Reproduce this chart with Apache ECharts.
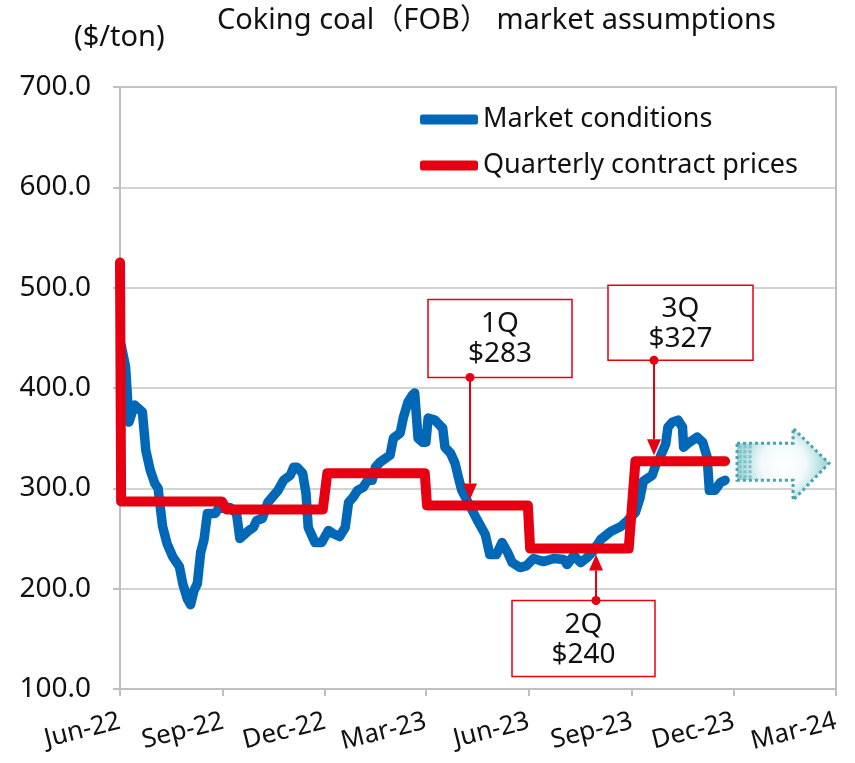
<!DOCTYPE html>
<html><head><meta charset="utf-8">
<script src="https://cdn.jsdelivr.net/npm/echarts@6/dist/echarts.min.js"></script>
<style>html,body{margin:0;padding:0;background:#fff}#c{width:855px;height:763px}</style>
</head><body><div id="c"></div>
<script>
// ---- data ----
const marketDates = ['2022-06-02','2022-06-06','2022-06-09','2022-06-14','2022-06-21','2022-06-24','2022-06-28','2022-07-02','2022-07-05','2022-07-09','2022-07-13','2022-07-18','2022-07-24','2022-07-27','2022-07-31','2022-08-03','2022-08-06','2022-08-09','2022-08-12','2022-08-15','2022-08-18','2022-08-25','2022-08-28','2022-09-07','2022-09-13','2022-09-16','2022-09-23','2022-09-28','2022-10-01','2022-10-06','2022-10-11','2022-10-20','2022-10-25','2022-10-31','2022-11-03','2022-11-06','2022-11-11','2022-11-14','2022-11-16','2022-11-22','2022-11-28','2022-12-04','2022-12-08','2022-12-14','2022-12-19','2022-12-22','2022-12-26','2022-12-30','2023-01-04','2023-01-08','2023-01-12','2023-01-15','2023-01-19','2023-01-28','2023-01-31','2023-02-06','2023-02-09','2023-02-13','2023-02-17','2023-02-19','2023-02-22','2023-02-26','2023-03-01','2023-03-03','2023-03-09','2023-03-16','2023-03-18','2023-03-23','2023-03-27','2023-03-30','2023-04-02','2023-04-10','2023-04-16','2023-04-23','2023-04-27','2023-05-03','2023-05-08','2023-05-13','2023-05-17','2023-05-24','2023-05-30','2023-06-05','2023-06-14','2023-06-23','2023-07-02','2023-07-05','2023-07-11','2023-07-17','2023-07-23','2023-07-28','2023-08-04','2023-08-13','2023-08-22','2023-08-28','2023-09-04','2023-09-08','2023-09-11','2023-09-19','2023-09-22','2023-09-26','2023-10-01','2023-10-03','2023-10-07','2023-10-12','2023-10-16','2023-10-17','2023-10-21','2023-10-29','2023-11-03','2023-11-07','2023-11-09','2023-11-14','2023-11-19','2023-11-23'];
const marketValues = [443,421,366,383,376,338,318,305,300,262,245,232,222,205,190,184,198,205,236,249,275,275,280,281,275,250,257,261,268,270,286,298,308,313,321,321,315,295,261,246,246,258,255,252,261,286,291,298,301,308,308,321,326,333,350,355,371,386,393,395,350,346,346,370,368,360,341,335,325,311,298,281,268,254,234,234,246,236,226,221,223,230,227,230,229,224,233,226,231,237,249,257,262,268,276,290,307,313,323,331,344,361,366,368,361,341,345,351,346,331,298,298,306,308];

const contractDates = ['2022-06-01','2022-06-02','2022-08-31','2022-09-04','2022-11-29','2022-12-03','2023-02-28','2023-03-02','2023-05-31','2023-06-02','2023-08-29','2023-09-04','2023-11-23'];
const contractValues = [525,287,287,279,279,315,315,283,283,240,240,327,327];

const tickDates = ['2022-06-01','2022-09-01','2022-12-01','2023-03-01','2023-06-01','2023-09-01','2023-12-01','2024-03-01'];
const tickLabels = ['Jun-22','Sep-22','Dec-22','Mar-23','Jun-23','Sep-23','Dec-23','Mar-24'];

const annoLabels = ['1Q','2Q','3Q'];
const annoPrices = ['$283','$240','$327'];
const annoDates = ['2023-04-09','2023-07-31','2023-09-21'];
const annoValues = [283,240,327];

// ---- chart ----
const FONT = "'Noto Sans', 'Noto Sans CJK JP', sans-serif";
function toTs(s){const p=s.split('-').map(Number);return new Date(p[0],p[1]-1,p[2]).getTime();}
const tickTs = tickDates.map(toTs);

const chart = echarts.init(document.getElementById('c'), null, {renderer:'canvas'});
chart.setOption({
  animation:false,
  backgroundColor:'#fff',
  title:{text:'Coking coal（FOB） market assumptions', left:217, top:6, padding:0,
    textStyle:{fontSize:29, fontWeight:'normal', color:'#111', fontFamily:FONT}},
  legend:{orient:'vertical', left:420, top:106, padding:0, itemWidth:58, itemHeight:10, itemGap:19,
    icon:'roundRect', textStyle:{fontSize:27, lineHeight:27, color:'#111', fontFamily:FONT},
    data:['Market conditions','Quarterly contract prices']},
  grid:{left:120, right:19, top:87, bottom:74, show:true, borderColor:'#bfbfbf', borderWidth:2},
  xAxis:{type:'value', min:tickTs[0], max:tickTs[tickTs.length-1],
    axisLine:{lineStyle:{color:'#bfbfbf', width:2}},
    axisTick:{show:true, customValues:tickTs, length:7, lineStyle:{color:'#bfbfbf', width:2}},
    axisLabel:{customValues:tickTs, rotate:14, margin:32, fontSize:26, color:'#111', fontFamily:FONT,
      hideOverlap:false,
      formatter:function(v){let bi=0,bd=Infinity;tickTs.forEach((t,i)=>{const d=Math.abs(t-v);if(d<bd){bd=d;bi=i;}});return tickLabels[bi];}},
    splitLine:{show:false}},
  yAxis:{type:'value', min:100, max:700, interval:100,
    axisLine:{show:true, lineStyle:{color:'#bfbfbf', width:2}},
    axisTick:{show:true, length:7, lineStyle:{color:'#bfbfbf', width:2}},
    axisLabel:{formatter:v=>v.toFixed(1), margin:29, fontSize:28, color:'#111', fontFamily:FONT},
    splitLine:{lineStyle:{color:'#c4c4c4', width:1.5}}},
  series:[
    {name:'Market conditions', type:'line', symbol:'none', z:2,
      data:marketDates.map((d,i)=>[toTs(d), marketValues[i]]),
      lineStyle:{color:'#0068b7', width:9.5, cap:'round', join:'round'}, itemStyle:{color:'#0068b7'}},
    {name:'Quarterly contract prices', type:'line', symbol:'none', z:3,
      data:contractDates.map((d,i)=>[toTs(d), contractValues[i]]),
      lineStyle:{color:'#e60012', width:10, cap:'round', join:'round'}, itemStyle:{color:'#e60012'}}
  ]
});

// ---- annotations ----
const RED = '#e60012';
const g = [];
g.push({type:'text', left:74, top:23, z:100, style:{text:'($/ton)', font:'29px '+FONT, fill:'#111'}});
const layouts = [
  {dir:-1, left:-42, w:144, h:78, gap:122},
  {dir: 1, left:-84, w:143, h:76, gap:46},
  {dir:-1, left:-46, w:145, h:75, gap:95}
];
annoLabels.forEach((lab,i)=>{
  const p = chart.convertToPixel({gridIndex:0}, [toTs(annoDates[i]), annoValues[i]]);
  const L = layouts[i];
  const ax = Math.round(p[0]);
  const tipY = p[1] + L.dir*6;
  let boxTop, dotY;
  if (L.dir < 0) { const bottom = tipY - L.gap; boxTop = bottom - L.h; dotY = bottom; }
  else { boxTop = tipY + L.gap; dotY = boxTop; }
  g.push({type:'rect', z:100, shape:{x:ax+L.left, y:boxTop, width:L.w, height:L.h},
    style:{fill:'#fff', stroke:RED, lineWidth:1.5}});
  g.push({type:'text', z:101, style:{text:lab+'\n'+annoPrices[i], x:ax+L.left+L.w/2, y:boxTop+L.h/2+1,
    align:'center', verticalAlign:'middle', font:'28px '+FONT, lineHeight:30, fill:'#111'}});
  const headBase = tipY + (L.dir<0 ? -16 : 16);
  g.push({type:'line', z:101, shape:{x1:ax, y1:dotY, x2:ax, y2:headBase}, style:{stroke:RED, lineWidth:2}});
  g.push({type:'circle', z:101, shape:{cx:ax, cy:dotY, r:4.5}, style:{fill:RED}});
  g.push({type:'polygon', z:101, shape:{points:[[ax-7,headBase],[ax+7,headBase],[ax,tipY]]}, style:{fill:RED}});
});
(function(){
  const p = chart.convertToPixel({gridIndex:0}, [toTs('2023-12-01'), 325]);
  const x0 = p[0] + 3, y0 = p[1];
  const pts = [[0,-20],[56,-20],[56,-35],[92,0],[56,37],[56,17],[0,17]].map(q=>[x0+q[0], y0+q[1]]);
  g.push({type:'polygon', z:90, shape:{points:pts},
    style:{fill:{type:'radial', x:0.5, y:0.5, r:0.6, colorStops:[{offset:0,color:'#ffffff'},{offset:0.5,color:'#f1f9fa'},{offset:1,color:'#9dd3d8'}]},
      stroke:'#4aa4ae', lineWidth:3, lineDash:[3,3]}});
  [3,8,13].forEach(dx=>{
    g.push({type:'line', z:91, shape:{x1:x0+dx, y1:y0-18, x2:x0+dx, y2:y0+15},
      style:{stroke:'#7cc2c9', lineWidth:3, lineDash:[3,2]}});
  });
})();
chart.setOption({graphic:{elements:g}});
</script>
</body></html>
